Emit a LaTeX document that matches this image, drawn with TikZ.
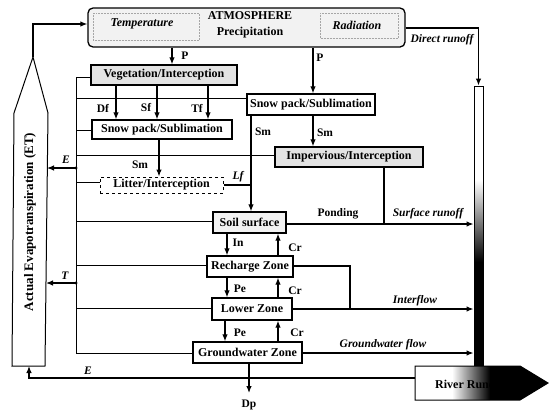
\documentclass[tikz,border=0pt]{standalone}
\usepackage{fontspec}
\setmainfont{Liberation Serif}
\usetikzlibrary{arrows.meta}
\begin{document}
\begin{tikzpicture}[x=1pt,y=-1pt,
  box/.style={draw, line width=1.3pt, inner sep=0pt, font=\bfseries\fontsize{12}{13}\selectfont},
  shadedbox/.style={fill=gray!22},
  arr/.style={-{Latex[length=7pt,width=5.5pt]}, line width=1.2pt},
  ln/.style={line width=1.2pt},
  busln/.style={line width=0.9pt},
  lab/.style={font=\bfseries\fontsize{11.5}{12}\selectfont, inner sep=0pt},
  ilab/.style={font=\bfseries\itshape\fontsize{11.5}{12}\selectfont, inner sep=0pt},
]
\useasboundingbox (0,0) rectangle (552,410);

% ---------- Atmosphere ----------
\node[box, fill=gray!10, rounded corners=5pt, minimum width=317pt, minimum height=39pt] (atm) at (246.5,27.5) {};
\draw[densely dotted, line width=0.5pt, gray!70] (93,13) rectangle (199,40);
\draw[densely dotted, line width=0.5pt, gray!70] (320,13) rectangle (398,38);
\node[ilab, font=\bfseries\itshape\fontsize{12}{13}\selectfont] (temp) at (142,24) {Temperature};
\node[lab, font=\bfseries\fontsize{12}{13}\selectfont] (atmt) at (250,16) {ATMOSPHERE};
\node[lab, font=\bfseries\fontsize{12}{13}\selectfont] (prec) at (250,33) {Precipitation};
\node[ilab, font=\bfseries\itshape\fontsize{12}{13}\selectfont] (rad) at (357,25) {Radiation};

% ---------- Boxes ----------
\node[box, shadedbox, minimum width=146pt, minimum height=20pt] (veg) at (164,75) {Vegetation/Interception};
\node[box, minimum width=140pt, minimum height=19pt] (snowL) at (162,129.5) {Snow pack/Sublimation};
\node[box, minimum width=128pt, minimum height=21pt] (snowR) at (311,104.5) {Snow pack/Sublimation};
\node[box, shadedbox, minimum width=148pt, minimum height=20pt] (imp) at (349,157) {Impervious/Interception};
\node[box, dashed, line width=1pt, minimum width=123pt, minimum height=16pt] (litter) at (161.5,185) {Litter/Interception};
\node[box, fill=gray!10, minimum width=73pt, minimum height=21pt] (soil) at (249.5,222.5) {Soil surface};
\node[box, minimum width=86pt, minimum height=21pt] (rech) at (250,266.5) {Recharge Zone};
\node[box, minimum width=80pt, minimum height=22pt] (lower) at (252,309) {Lower Zone};
\node[box, minimum width=109pt, minimum height=21pt] (gw) at (247.5,352.5) {Groundwater Zone};

% ---------- River bar ----------
\fill[white] (474,86) rectangle (483,180);
\shade[top color=white, bottom color=black] (474,180) rectangle (483,262);
\fill[black] (474,262) rectangle (483,368);
\node[draw, line width=1pt, minimum width=9pt, minimum height=282pt, inner sep=0pt] (bar) at (478.5,227) {};

% ---------- River runoff arrow ----------
\begin{scope}
\clip (415,366) -- (520,366) -- (548,383) -- (520,400) -- (415,400) -- cycle;
\fill[white] (415,366) rectangle (452,400);
\shade[left color=white, right color=black] (452,366) rectangle (490,400);
\fill[black] (490,366) rectangle (550,400);
\end{scope}
\draw[line width=1pt] (415,366) -- (520,366) -- (548,383) -- (520,400) -- (415,400) -- cycle;
\node[lab, font=\bfseries\fontsize{12}{13}\selectfont, anchor=west] (riv) at (435,384) {River Runoff};
\coordinate (rivW) at (415,378);

% ---------- ET shape ----------
\draw[line width=1pt] (33,57) -- (48,113) -- (45,366) -- (12,366) -- (14,113) -- cycle;
\node[lab, font=\bfseries\fontsize{13}{14}\selectfont, rotate=90] (et) at (30,222) {Actual Evapotranspiration (ET)};
\coordinate (etTip) at (33,57);
\coordinate (etBot) at (29,366);
\coordinate (etE) at (47,168);
\coordinate (etT) at (46,283);

% ---------- Connectors from atmosphere ----------
\draw[arr] (172,0 |- atm.south) -- (172,0 |- veg.north);
\node[lab] (p1) at (185,56) {P};
\draw[arr] (313,0 |- atm.south) -- (313,0 |- snowR.north);
\node[lab] (p2) at (320,58) {P};
\draw[arr] (atm.east |- 0,28) -| (bar.north);
\node[ilab] (dr) at (442,40) {Direct runoff};
\draw[arr] (etTip) |- (atm.west |- 0,24);

% ---------- Vegetation to snow pack ----------
\draw[arr] (116,0 |- veg.south) -- (116,0 |- snowL.north);
\draw[arr] (157,0 |- veg.south) -- (157,0 |- snowL.north);
\draw[arr] (208,0 |- veg.south) -- (208,0 |- snowL.north);
\node[lab] (df) at (103,108) {Df};
\node[lab] (sf) at (146,108) {Sf};
\node[lab] (tf) at (197,108) {Tf};

% ---------- Snow melt ----------
\draw[arr] (159,0 |- snowL.south) -- (159,0 |- litter.north);
\node[lab] (sm1) at (140,165) {Sm};
\draw[arr] (313,0 |- snowR.south) -- (313,0 |- imp.north);
\node[lab] (sm2) at (325,133) {Sm};
\draw[arr] (251,0 |- snowR.south) -- (251,0 |- soil.north);
\node[lab] (sm3) at (263,132) {Sm};
\draw[ln] (litter.east) -- (251,0 |- litter.east);
\node[ilab] (lf) at (238,177) {Lf};

% ---------- Surface runoff ----------
\coordinate (srj) at (384,224);
\draw[ln] (srj |- imp.south) -- (srj);
\draw[arr] (soil.east |- srj) -- (bar.west |- srj);
\node[lab] (pond) at (338,214) {Ponding};
\node[ilab] (sro) at (428,214) {Surface runoff};

% ---------- Soil column ----------
\draw[arr] (227,0 |- soil.south) -- (227,0 |- rech.north);
\node[lab] (in) at (238,243) {In};
\draw[arr] (278,0 |- rech.north) -- (278,0 |- soil.south);
\node[lab] (cr1) at (295,248) {Cr};
\draw[arr] (227,0 |- rech.south) -- (227,0 |- lower.north);
\node[lab] (pe1) at (240,289) {Pe};
\draw[arr] (278,0 |- lower.north) -- (278,0 |- rech.south);
\node[lab] (cr2) at (295,291) {Cr};
\draw[arr] (225,0 |- lower.south) -- (225,0 |- gw.north);
\node[lab] (pe2) at (240,333) {Pe};
\draw[arr] (278,0 |- gw.north) -- (278,0 |- lower.south);
\node[lab] (cr3) at (297,333) {Cr};

% ---------- Interflow / groundwater ----------
\draw[ln] (rech.east |- 0,266) -| (350,309);
\draw[arr] (lower.east |- 0,309) -- (bar.west |- 0,309);
\node[ilab] (intf) at (415,301) {Interflow};
\draw[arr] (gw.east |- 0,353) -- (bar.west |- 0,353);
\node[ilab] (gwf) at (383,345) {Groundwater flow};
\draw[arr] (249,0 |- gw.south) -- (249,393);
\node[lab] (dp) at (249,405) {Dp};

% ---------- Bus to ET ----------
\coordinate (busT) at (76,77);
\coordinate (busB) at (76,353);
\draw[busln] (busT) -- (busB);
\draw[busln] (busT) -- (busT -| veg.west);
\coordinate (b2) at (76,98);
\draw[busln] (b2) -- (b2 -| snowR.west);
\coordinate (b3) at (76,130);
\draw[busln] (b3) -- (b3 -| snowL.west);
\coordinate (b4) at (76,155);
\draw[busln] (b4) -- (b4 -| imp.west);
\coordinate (b5) at (76,182);
\draw[busln] (b5) -- (b5 -| litter.west);
\coordinate (b6) at (76,221);
\draw[busln] (b6) -- (b6 -| soil.west);
\coordinate (b7) at (76,265);
\draw[busln] (b7) -- (b7 -| rech.west);
\coordinate (b8) at (76,308);
\draw[busln] (b8) -- (b8 -| lower.west);
\draw[busln] (busB) -- (busB -| gw.west);

\coordinate (busE) at (76,168);
\coordinate (busTT) at (76,283);
\fill (busE) circle (1.6pt);
\fill (busTT) circle (1.6pt);
\draw[arr] (busE) -- (etE);
\node[ilab] (e1) at (66,160) {E};
\draw[arr] (busTT) -- (etT);
\node[ilab] (t1) at (65,276) {T};

\draw[arr] (rivW) -| (etBot);
\node[ilab] (e2) at (88,371) {E};
\end{tikzpicture}
\end{document}
